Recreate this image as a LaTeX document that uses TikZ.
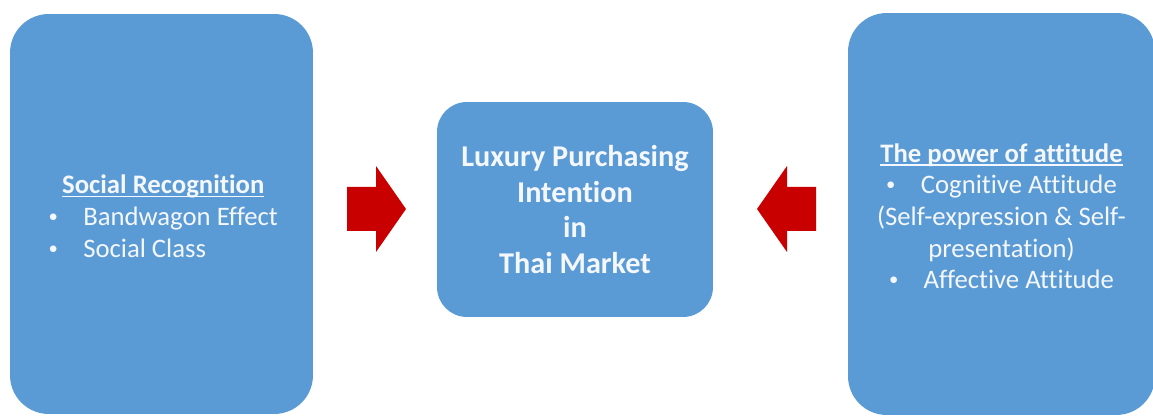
\documentclass[tikz,border=0pt]{standalone}
\usepackage{graphicx}
\usepackage{fontspec}
\setmainfont{Carlito}[Ligatures=NoCommon]

\definecolor{boxblue}{HTML}{5B9BD5}
\definecolor{arrowred}{HTML}{C80000}
\definecolor{boxtext}{HTML}{F4F7FB}

\newcommand{\bul}{\raisebox{0.12em}{\scalebox{0.7}{\textbullet}}\hspace{0.95em}}
% bold heading with a rule just under the baseline
\newcommand{\headline}[1]{\setbox0\hbox{\textbf{#1}}\rlap{\rule[-1.8pt]{\wd0}{0.8pt}}\box0}

\begin{document}
\begin{tikzpicture}[x=0.02cm,y=0.02cm,
  block/.style={fill=boxblue,inner sep=0pt,rounded corners=22pt},
  sidetext/.style={text=boxtext,inner sep=0pt,font=\fontsize{15.2}{18}\selectfont},
  bigarrow/.style={fill=arrowred,draw=none}]

\useasboundingbox (0,0) rectangle (1153,416);

% the three blocks
\node[block,minimum width=6.06cm,minimum height=8cm] (social) at (161.5,202) {};
\node[block,rounded corners=17pt,minimum width=5.52cm,minimum height=4.3cm,
  text=boxtext,align=center,font=\fontsize{17.2}{20.2}\selectfont\bfseries] (intent) at (575,206.5)
  {Luxury Purchasing\\Intention\\in\\Thai Market};
\node[block,minimum width=6.14cm,minimum height=8.04cm] (attitude) at (1001.5,202) {};

% block texts
\node[sidetext] (socialtext) at ([xshift=1,yshift=-3]social.center) {%
\begin{tabular}{@{}l@{}}
\multicolumn{1}{@{}c@{}}{\headline{Social Recognition}}\\
\bul Bandwagon Effect\\
\bul Social Class
\end{tabular}};
\node[sidetext] (attitudetext) at ([yshift=-3]attitude.center) {%
\begin{tabular}{@{}c@{}}
\headline{The power of attitude}\\
\bul Cognitive Attitude\\
(Self-expression \& Self-\\
presentation)\\
\bul Affective Attitude
\end{tabular}};

% arrows pointing to the middle
\coordinate (tipl) at (406,207);
\coordinate (tipr) at (757,207);
\fill[bigarrow] (347,185) -- (376,185) -- (376,164) -- (tipl) -- (376,250) -- (376,229) -- (347,229) -- cycle;
\fill[bigarrow] (816,185) -- (787,185) -- (787,164) -- (tipr) -- (787,250) -- (787,229) -- (816,229) -- cycle;

\end{tikzpicture}
\end{document}
